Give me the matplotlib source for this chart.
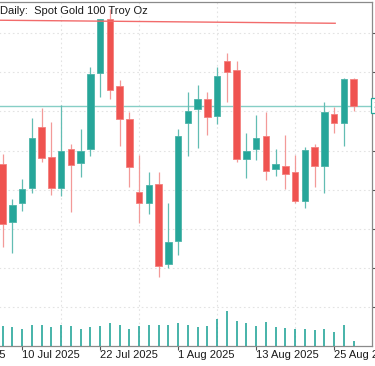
import matplotlib
matplotlib.use("Agg")
import matplotlib.pyplot as plt
import numpy as np
import pandas as pd

# ---------------- data ----------------
dates = pd.bdate_range("2025-07-08", "2025-08-27")   # 37 daily sessions

opens  = [3341.2, 3304.3, 3316.3, 3325.9, 3365.2, 3346.1, 3326.0, 3351.0, 3342.2, 3351.0,
          3399.4, 3433.9, 3391.3, 3370.0, 3323.3, 3316.3, 3328.6, 3277.2, 3292.1, 3367.8,
          3376.4, 3382.8, 3372.4, 3407.3, 3401.5, 3344.6, 3350.8, 3359.0, 3338.4, 3339.8,
          3336.1, 3317.7, 3352.3, 3340.3, 3373.2, 3367.4, 3395.6]
highs  = [3347.8, 3318.8, 3332.1, 3371.0, 3377.0, 3368.4, 3379.1, 3353.9, 3363.5, 3403.6,
          3434.4, 3440.5, 3395.1, 3374.8, 3347.1, 3336.1, 3336.1, 3316.6, 3363.5, 3387.6,
          3391.9, 3387.4, 3403.6, 3412.2, 3407.3, 3361.0, 3372.5, 3374.6, 3350.8, 3359.9,
          3347.1, 3352.1, 3354.2, 3380.9, 3378.0, 3396.1, 3396.2]
lows   = [3288.5, 3284.3, 3311.5, 3323.0, 3342.5, 3321.6, 3320.9, 3310.9, 3333.3, 3346.7,
          3384.4, 3382.8, 3352.9, 3326.9, 3303.5, 3309.4, 3269.3, 3275.1, 3282.9, 3346.7,
          3351.6, 3359.9, 3367.2, 3381.2, 3342.5, 3332.6, 3344.1, 3331.2, 3333.9, 3325.2,
          3316.6, 3313.1, 3326.9, 3323.0, 3361.4, 3352.9, 3375.6]
closes = [3303.0, 3315.2, 3325.7, 3358.3, 3345.0, 3326.2, 3349.5, 3340.8, 3349.9, 3399.0,
          3433.9, 3388.7, 3370.2, 3339.2, 3316.3, 3328.2, 3276.4, 3291.7, 3359.0, 3375.5,
          3382.8, 3371.3, 3397.9, 3400.4, 3344.6, 3349.9, 3357.8, 3337.1, 3341.2, 3334.7,
          3317.5, 3350.3, 3340.3, 3374.8, 3367.4, 3395.6, 3378.7]
volumes = [203, 187, 170, 210, 210, 190, 210, 197, 170, 190,
           203, 233, 210, 170, 197, 210, 210, 210, 233, 210,
           190, 200, 270, 350, 253, 230, 197, 237, 187, 180,
           167, 173, 160, 173, 140, 210, 47]

tick_dates = ["2025-06-30", "2025-07-10", "2025-07-22", "2025-08-01", "2025-08-13", "2025-08-25"]
grid_dates = ["2025-06-30", "2025-07-04", "2025-07-10", "2025-07-16", "2025-07-22", "2025-07-28",
              "2025-08-01", "2025-08-07", "2025-08-13", "2025-08-19", "2025-08-25"]
price_ticks = [3250, 3275, 3300, 3325, 3350, 3375, 3400, 3425]

# red resistance line (session offsets, price)
res_x = [-8.5, 34.1]
res_y = [3433.8, 3431.4]

title = "Daily:  Spot Gold 100 Troy Oz"

# ---------------- style ----------------
GREEN = "#26a69a"
RED = "#ef5350"
GREEN_W = "#62bdb3"
RED_W = "#f39a98"
GREEN_E = "#4cb3a8"
RED_E = "#f4807e"
FONT = "Liberation Sans"

W, H = 375, 366
fig = plt.figure(figsize=(W / 100, H / 100), dpi=100)
left_px, right_px, top_px, bot_px = -80, 372, 2, 346
ax = fig.add_axes([left_px / W, 1 - bot_px / H, (right_px - left_px) / W, (bot_px - top_px) / H])

x = np.arange(len(dates))
o = np.array(opens); c = np.array(closes)
h = np.array(highs); l = np.array(lows)
up = c >= o

ax.vlines(x, l, h, colors=np.where(up, GREEN_W, RED_W), linewidth=0.9, zorder=3)
ax.bar(x, np.maximum(np.abs(c - o), 0.3), bottom=np.minimum(o, c), width=0.66,
       color=np.where(up, GREEN, RED), edgecolor=np.where(up, GREEN_E, RED_E),
       linewidth=0.6, zorder=4)

# volume overlay (bottom of the panel)
ax2 = ax.twinx()
ax2.vlines(x, 0, volumes, colors=GREEN, linewidth=1.4, alpha=0.85, zorder=2)
ax2.set_ylim(0, 3440)
ax2.axis("off")

# lines
ax.plot(res_x, res_y, color="#f26b6b", linewidth=1.0, zorder=5)
ax.axhline(closes[-1], color="#86cec6", linewidth=1.0, zorder=2)

# axes limits
ax.set_xlim((left_px - 2.7) / 9.75, (right_px - 2.7) / 9.75)
ax.set_ylim(3225, 3445)

# x ticks
d0 = dates[0].date()
tick_pos = [int(np.busday_count(d0, pd.Timestamp(t).date())) for t in tick_dates]
tick_lab = [f"{pd.Timestamp(t).day} {pd.Timestamp(t):%b %Y}" for t in tick_dates]
grid_pos = [int(np.busday_count(d0, pd.Timestamp(t).date())) for t in grid_dates]
ax.set_xticks(tick_pos, tick_lab)
ax.set_xticks(grid_pos, minor=True)
for lbl in ax.get_xticklabels():
    lbl.set_horizontalalignment("left")
    lbl.set_fontfamily(FONT)
    lbl.set_fontsize(8)
    lbl.set_color("#1a1a1a")
ax.tick_params(axis="x", which="major", length=2.6, width=0.8, color="#555555", pad=0.5)
ax.tick_params(axis="x", which="minor", length=0)

# y ticks (right side, labels outside the image)
ax.yaxis.tick_right()
ax.set_yticks(price_ticks)
ax.tick_params(axis="y", which="major", length=2.5, width=0.8, color="#555555",
               labelright=False, labelleft=False)

ax.grid(which="minor", axis="x", color="#e3e3e3", linestyle=(0, (1.5, 2.5)), linewidth=0.8)
ax.grid(which="major", axis="y", color="#e3e3e3", linestyle=(0, (1.5, 2.5)), linewidth=0.8)
ax.set_axisbelow(True)

for s in ("top", "right", "bottom"):
    ax.spines[s].set_color("#8a8a8a")
    ax.spines[s].set_linewidth(0.9)
ax.spines["left"].set_visible(False)

# current price box on the right edge
ax.annotate(f"{closes[-1]:.2f}", xy=(1, closes[-1]), xycoords=("axes fraction", "data"),
            xytext=(2, 0), textcoords="offset pixels", ha="left", va="center",
            fontsize=8, family=FONT, color=GREEN, annotation_clip=False,
            bbox=dict(boxstyle="square,pad=0.25", fc="white", ec=GREEN, lw=0.9))

fig.text(0.5 / W, 1 - 14 / H, title, fontsize=8, family=FONT, va="baseline",
         ha="left", color="#1a1a1a")

fig.savefig("out.png", dpi=100)
